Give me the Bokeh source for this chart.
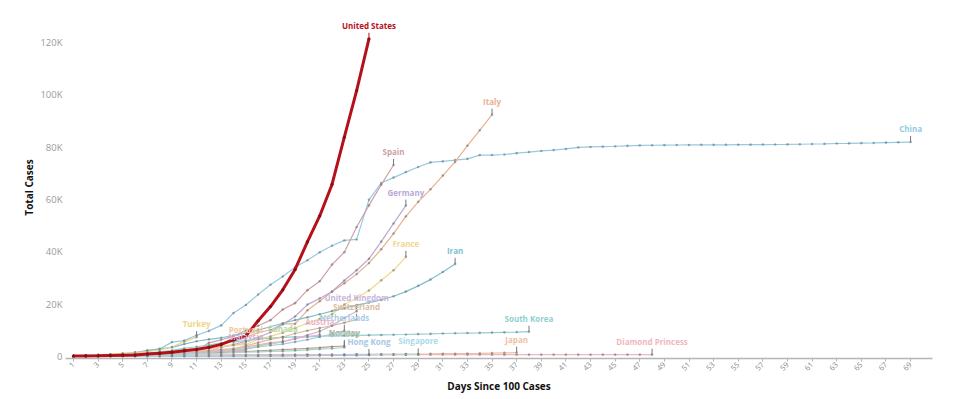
import math
from bokeh.plotting import figure
from bokeh.models import ColumnDataSource, Range1d, FixedTicker, LabelSet
from bokeh.core.properties import value
from bokeh.embed import file_html
from bokeh.resources import INLINE

# ---------------- data (total cases by day since 100th case) ----------------
united_states = [149, 217, 262, 402, 518, 583, 959, 1281, 1663, 2179, 2726, 3499, 4632, 6421,
                 7786, 13680, 19101, 25493, 33276, 43847, 53740, 65778, 83836, 101657, 121478]
china = [278, 326, 548, 643, 920, 1406, 2075, 2877, 5509, 6087, 8141, 9802, 11891, 16630, 19716,
         23707, 27440, 30587, 34110, 36814, 39829, 42354, 44386, 44759, 59895, 66358, 68413, 70513,
         72434, 74211, 74619, 75077, 75550, 77001, 77022, 77241, 77754, 78166, 78600, 78928, 79356,
         79932, 80136, 80261, 80386, 80537, 80690, 80770, 80823, 80860, 80887, 80921, 80932, 80945,
         80977, 81003, 81033, 81058, 81102, 81156, 81250, 81305, 81435, 81498, 81591, 81661, 81782,
         81897, 81999]
italy = [155, 229, 322, 453, 655, 888, 1128, 1694, 2036, 2502, 3089, 3858, 4636, 5883, 7375, 9172,
         10149, 12462, 12462, 17660, 21157, 24747, 27980, 31506, 35713, 41035, 47021, 53578, 59138,
         63927, 69176, 74386, 80589, 86498, 92472]
spain = [120, 165, 222, 259, 400, 500, 673, 1073, 1695, 2277, 2277, 5232, 6391, 7798, 9942, 11748,
         13910, 17963, 20410, 25374, 28768, 35136, 39885, 49515, 57786, 65719, 73235]
germany = [130, 159, 196, 262, 482, 670, 799, 1040, 1176, 1457, 1908, 2078, 3675, 4585, 5795, 7272,
           9257, 12327, 15320, 19848, 22213, 24873, 29056, 32986, 37323, 43938, 50871, 57695]
france = [130, 191, 204, 288, 380, 656, 957, 1134, 1217, 1792, 2290, 2290, 3678, 4487, 4523, 6668,
          7699, 9105, 10947, 12726, 14431, 16176, 19856, 22304, 25233, 29155, 32964, 38105]
iran = [139, 245, 388, 593, 978, 1501, 2336, 2922, 3513, 4747, 5823, 6566, 7161, 8042, 9000, 10075,
        11364, 12729, 13938, 14991, 16169, 17361, 18407, 19644, 20610, 21638, 23049, 24811, 27017,
        29406, 32332, 35408]
south_korea = [104, 204, 433, 602, 833, 977, 1261, 1766, 2337, 3150, 3736, 4335, 5186, 5621, 6088,
               6593, 7041, 7314, 7478, 7513, 7755, 7869, 7979, 8086, 8162, 8236, 8320, 8413, 8565,
               8652, 8799, 8897, 8961, 9037, 9137, 9241, 9332, 9478]
japan = [105, 132, 144, 144, 170, 189, 214, 228, 241, 256, 274, 293, 331, 360, 420, 461, 502, 511,
         581, 639, 639, 701, 773, 839, 825, 878, 889, 924, 963, 1007, 1086, 1086, 1128, 1193, 1307,
         1387, 1468]
diamond_princess = [135, 135, 175, 175, 218, 285, 355, 454, 542, 621, 634, 634, 634, 691, 691, 691,
                    705, 705, 705, 705, 705, 706, 706, 706, 696, 696, 696, 696, 696, 696, 696, 696,
                    696, 696, 696, 696, 696, 712, 712, 712, 712, 712, 712, 712, 712, 712, 712, 712]
singapore = [102, 106, 108, 110, 110, 117, 130, 138, 150, 150, 160, 178, 178, 200, 212, 226, 243,
             266, 313, 345, 385, 432, 455, 509, 558, 631, 683, 732, 802]
hong_kong = [105, 105, 107, 108, 114, 115, 120, 126, 129, 134, 140, 145, 155, 162, 192, 208, 256,
             273, 317, 356, 386, 410, 453, 519, 582]
turkey = [191, 359, 670, 947, 1236, 1529, 1872, 2433, 3629, 5698, 7402]
united_kingdom = [116, 164, 207, 274, 322, 384, 459, 459, 802, 1144, 1145, 1551, 1960, 2642, 2716,
                  4014, 5067, 5745, 6726, 8164, 9640, 11812, 14745, 17312]
switzerland = [114, 214, 268, 337, 374, 491, 652, 652, 1139, 1359, 2200, 2200, 2700, 3028, 4075,
               5294, 6575, 7474, 8795, 9877, 10897, 11811, 12928, 14076]
netherlands = [128, 188, 265, 321, 382, 503, 503, 806, 962, 1138, 1416, 1711, 2058, 2467, 3003,
               3640, 4217, 4764, 5580, 6438, 7468, 8647, 9819]
austria = [104, 131, 182, 246, 302, 504, 655, 860, 1018, 1332, 1646, 2013, 2388, 2814, 3582, 4474,
           5283, 5588, 6909, 7657, 8271]
norway = [108, 147, 176, 205, 400, 598, 702, 996, 1090, 1221, 1333, 1463, 1550, 1746, 1914, 2118,
          2385, 2621, 2863, 3084, 3369, 3755, 4015]
portugal = [169, 245, 331, 448, 642, 785, 1020, 1280, 1600, 2060, 2362, 2995, 3544, 4268, 5170]
canada = [108, 117, 193, 198, 252, 415, 478, 657, 800, 943, 1277, 1469, 2088, 2790, 3251, 4042,
          4682, 5576]
sweden = [101, 161, 203, 248, 355, 500, 599, 814, 961, 1022, 1103, 1190, 1279, 1439, 1639, 1763,
          1934, 2046, 2286, 2526, 2840, 3069, 3447]
malaysia = [238, 428, 566, 673, 790, 900, 1030, 1183, 1306, 1518, 1624, 1796, 2031, 2161, 2320]

names = ["China", "Italy", "Spain", "Germany", "France", "Iran", "South Korea", "Japan",
         "Diamond Princess", "Singapore", "Hong Kong", "Turkey", "United Kingdom", "Switzerland",
         "Netherlands", "Austria", "Norway", "Portugal", "Canada", "Sweden", "Malaysia"]
series = [china, italy, spain, germany, france, iran, south_korea, japan, diamond_princess,
          singapore, hong_kong, turkey, united_kingdom, switzerland, netherlands, austria, norway,
          portugal, canada, sweden, malaysia]
colors = ["#93cbe3", "#e9b08e", "#cfa1a6", "#b9a9d6", "#f1d88c", "#7fbfcf", "#8fd1cf", "#f0c1a2",
          "#f0b7c0", "#a9dbe9", "#a9c6e6", "#eed58a", "#c8b8dc", "#dcbc9c", "#a9cde9", "#e8b4c4",
          "#b8a48e", "#f2c69a", "#b5d9a8", "#a8d5c9", "#d9b2cf"]

y_ticks = [0, 20000, 40000, 60000, 80000, 100000, 120000]
y_tick_labels = ["0", "20K", "40K", "60K", "80K", "100K", "120K"]
x_ticks = list(range(1, 70, 2))

FONT = "Open Sans"

p = figure(width=960, height=399, x_range=Range1d(0.35, 70.78), y_range=Range1d(-760, 130000),
           output_backend="svg", toolbar_location=None,
           min_border_left=65, min_border_right=28, min_border_top=16, min_border_bottom=41)
p.outline_line_color = None
p.xgrid.grid_line_color = None
p.ygrid.grid_line_color = None
p.background_fill_color = "white"

TICK_LEN = 2300  # connector height in data units (~6px)


def draw(name, vals, color, lw, dot, main):
    days = list(range(1, len(vals) + 1))
    src = ColumnDataSource(dict(x=days, y=vals))
    p.line("x", "y", source=src, line_color=color, line_width=lw)
    p.scatter("x", "y", source=src, size=dot, fill_color="#8a0c12" if main else "#6d6d6d",
              line_color=None, fill_alpha=1.0 if main else 0.55)
    esrc = ColumnDataSource(dict(x=[days[-1]], y=[vals[-1]], y1=[vals[-1] + TICK_LEN], t=[name]))
    p.segment("x", "y", "x", "y1", source=esrc, line_color=color if main else "#777777",
              line_width=1)
    lab = LabelSet(x="x", y="y1", text="t", source=esrc, text_align="center",
                   text_baseline="bottom", y_offset=2, text_color=color,
                   text_font=value(FONT), text_font_size="8px", text_font_style="bold")
    p.add_layout(lab)


for nm, vals, col in zip(names, series, colors):
    draw(nm, vals, col, 1.2, 2.6, False)

draw("United States", united_states, "#b4111b", 3, 3.2, True)

# axes
p.yaxis.ticker = FixedTicker(ticks=y_ticks)
p.yaxis.major_label_overrides = {t: l for t, l in zip(y_ticks, y_tick_labels)}
p.yaxis.axis_line_color = None
p.yaxis.major_tick_line_color = None
p.yaxis.major_tick_out = 0
p.yaxis.major_tick_in = 0
p.yaxis.minor_tick_line_color = None
p.yaxis.minor_tick_out = 0
p.yaxis.major_label_text_color = "#9a9a9a"
p.yaxis.major_label_text_font = FONT
p.yaxis.major_label_text_font_size = "9.5px"
p.yaxis.major_label_standoff = 3
p.yaxis.axis_label = "Total Cases"
p.yaxis.axis_label_text_font = FONT
p.yaxis.axis_label_text_font_style = "bold"
p.yaxis.axis_label_text_font_size = "10px"
p.yaxis.axis_label_text_color = "#111111"
p.yaxis.axis_label_standoff = 1

p.xaxis.ticker = FixedTicker(ticks=x_ticks)
p.xaxis.major_label_orientation = math.pi / 4
p.xaxis.axis_line_color = "#b5b5b5"
p.xaxis.axis_line_width = 1.5
p.xaxis.major_tick_line_color = "#b5b5b5"
p.xaxis.major_tick_out = 3
p.xaxis.major_tick_in = 0
p.xaxis.minor_tick_line_color = None
p.xaxis.major_label_text_color = "#8a8a8a"
p.xaxis.major_label_text_font = FONT
p.xaxis.major_label_text_font_size = "7.5px"
p.xaxis.major_label_standoff = 2
p.xaxis.axis_label = "Days Since 100 Cases"
p.xaxis.axis_label_text_font = FONT
p.xaxis.axis_label_text_font_style = "bold"
p.xaxis.axis_label_text_font_size = "10px"
p.xaxis.axis_label_text_color = "#111111"
p.xaxis.axis_label_standoff = 3

open("out.html", "w").write(file_html(p, INLINE))
